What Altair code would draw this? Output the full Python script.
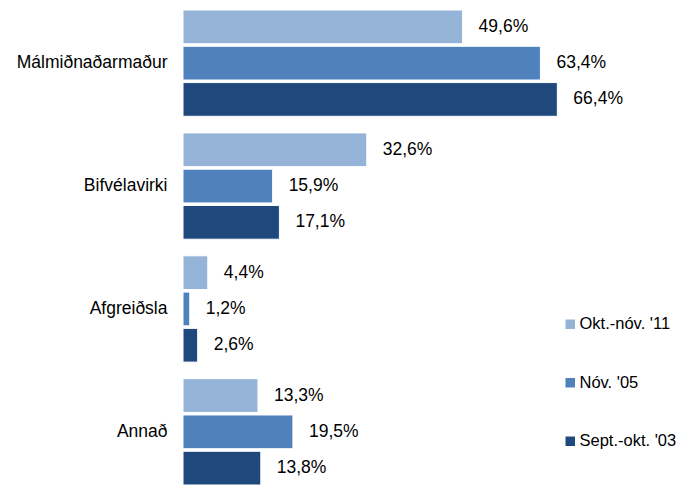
import altair as alt
import pandas as pd

categories = ["Málmiðnaðarmaður", "Bifvélavirki", "Afgreiðsla", "Annað"]
series = ["Okt.-nóv. '11", "Nóv. '05", "Sept.-okt. '03"]
values_11 = [49.6, 32.6, 4.4, 13.3]
values_05 = [63.4, 15.9, 1.2, 19.5]
values_03 = [66.4, 17.1, 2.6, 13.8]
colors = ["#95B3D7", "#4F81BD", "#1F497D"]

rows = []
for s, vals in zip(series, [values_11, values_05, values_03]):
    for c, v in zip(categories, vals):
        rows.append({"cat": c, "series": s, "value": v,
                     "label": f"{v:.1f}".replace(".", ",") + "%"})
df = pd.DataFrame(rows)

FONT = "Liberation Sans"
FS = 17.5

y = alt.Y("cat:N", sort=categories, title=None,
          scale=alt.Scale(paddingInner=0.135, paddingOuter=0),
          axis=alt.Axis(domain=False, ticks=False, labelPadding=16,
                        labelFontSize=FS, labelFont=FONT, labelColor="#000000"))
yoff = alt.YOffset("series:N", sort=series,
                   scale=alt.Scale(paddingInner=0.07, paddingOuter=0))
x = alt.X("value:Q", title=None, scale=alt.Scale(domain=[0, 80], nice=False),
          axis=None)

bars = alt.Chart(df).mark_bar(stroke="white", strokeWidth=1).encode(
    y=y, yOffset=yoff, x=x,
    color=alt.Color("series:N", sort=series,
                    scale=alt.Scale(domain=series, range=colors),
                    legend=alt.Legend(title=None, orient="none", legendX=379, legendY=306,
                                      symbolType="square", symbolSize=90,
                                      symbolStrokeWidth=0,
                                      labelFontSize=16.5, labelFont=FONT,
                                      labelColor="#000000", rowPadding=41.5,
                                      labelOffset=1)),
)

text = alt.Chart(df).mark_text(align="left", baseline="middle", dx=16,
                               fontSize=FS, font=FONT, color="#000000").encode(
    y=y, yOffset=yoff, x=x, text="label:N")

chart = (bars + text).properties(
    width=451, height=475,
    autosize=alt.AutoSizeParams(type="none"),
    padding={"left": 175, "top": 2, "right": 50, "bottom": 0},
).configure_view(stroke=None)

chart.save("out.html", embed_options={"renderer": "svg", "actions": False})
